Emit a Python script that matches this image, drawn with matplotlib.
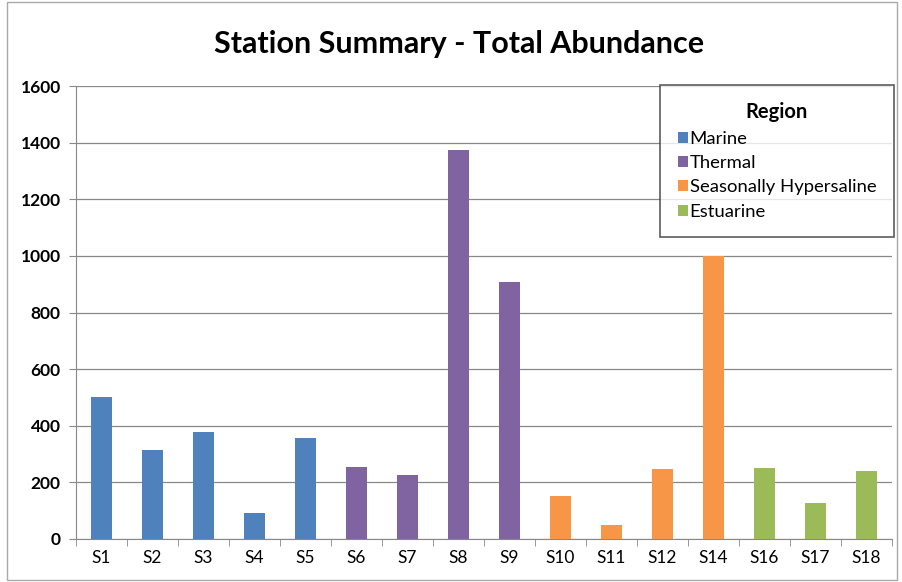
import matplotlib.pyplot as plt
from matplotlib.patches import Patch, Rectangle

stations = ["S1", "S2", "S3", "S4", "S5", "S6", "S7", "S8", "S9",
            "S10", "S11", "S12", "S14", "S16", "S17", "S18"]
abundance = [503, 314, 378, 92, 357, 254, 226, 1374, 908,
             152, 50, 247, 1000, 251, 127, 240]
regions = ["Marine"] * 5 + ["Thermal"] * 4 + ["Seasonally Hypersaline"] * 4 + ["Estuarine"] * 3
region_order = ["Marine", "Thermal", "Seasonally Hypersaline", "Estuarine"]
region_colors = {"Marine": "#4f81bd", "Thermal": "#8064a2",
                 "Seasonally Hypersaline": "#f79646", "Estuarine": "#9bbb59"}

plt.rcParams["font.family"] = ["Lato", "DejaVu Sans"]

fig = plt.figure(figsize=(9.03, 5.82), dpi=100)
ax = fig.add_axes([0.0842, 0.0739, 0.9037, 0.778])

x = list(range(len(stations)))
ax.bar(x, abundance, width=0.4, color=[region_colors[r] for r in regions], zorder=3)

ax.set_xlim(-0.5, len(stations) - 0.5)
ax.set_ylim(0, 1600)
ax.set_yticks(range(0, 1601, 200))
ax.set_xticks(x)
ax.set_xticklabels(stations, fontsize=12.5)
ax.set_xticks([i - 0.5 for i in range(len(stations) + 1)], minor=True)
ax.tick_params(axis="x", which="major", length=0, pad=8)
ax.tick_params(axis="x", which="minor", length=5, color="#888888", direction="out")
ax.tick_params(axis="y", length=5, color="#888888", direction="out", labelsize=12.5, pad=6)
for lbl in ax.get_yticklabels():
    lbl.set_fontweight("bold")
ax.grid(axis="y", color="#888888", linewidth=0.9, zorder=0)
for side in ["top", "right"]:
    ax.spines[side].set_visible(False)
for side in ["left", "bottom"]:
    ax.spines[side].set_color("#888888")

fig.text(0.508, 0.925, "Station Summary - Total Abundance", ha="center", va="center",
         fontsize=22, fontweight="bold")

handles = [Patch(facecolor=region_colors[r], label=r) for r in region_order]
leg = ax.legend(handles=handles, title="Region", loc="upper right",
                bbox_to_anchor=(1.002, 1.003), fontsize=13.3, frameon=True, fancybox=False,
                handlelength=0.55, handleheight=0.55, handletextpad=0.1,
                labelspacing=0.45, borderpad=0.95, borderaxespad=0)
leg.get_title().set_fontweight("bold")
leg.get_title().set_fontsize(14.5)
leg.get_frame().set_edgecolor("#333333")
leg.get_frame().set_linewidth(1.2)

fig.patches.append(Rectangle((0.008, 0.003), 0.985, 0.994, transform=fig.transFigure,
                             fill=False, edgecolor="#aaaaaa", linewidth=1))

fig.savefig("out.png", dpi=100)
